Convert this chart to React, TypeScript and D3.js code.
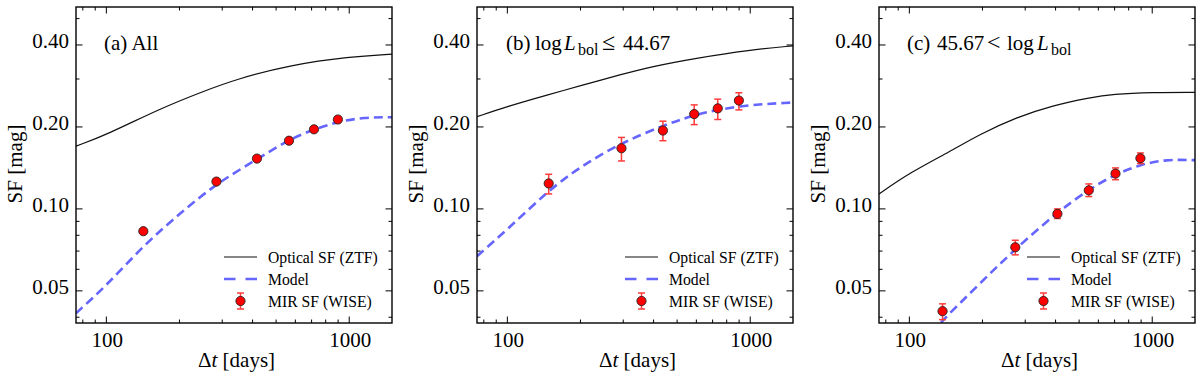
import { useEffect, useRef } from 'react';
import * as d3 from 'd3';

// tick values
const xMajorTicks = [100, 1000];
const xMinorTicks = [80, 90, 200, 300, 400, 500, 600, 700, 800, 900];
const yMajorTicks = [0.05, 0.1, 0.2, 0.4];
const yMinorTicks = [0.04, 0.06, 0.07, 0.08, 0.09, 0.3, 0.5];

// (a) All
const opticalDaysA = [75, 100, 167, 250, 344, 575, 1000, 1500];
const opticalSfA = [0.170, 0.187, 0.234, 0.270, 0.300, 0.338, 0.362, 0.370];
const modelDaysA = [75, 100, 143, 203, 284, 417, 565, 716, 898, 1150, 1500];
const modelSfA = [0.0414, 0.0522, 0.0738, 0.097, 0.124, 0.152, 0.180, 0.196, 0.209, 0.217, 0.217];
const wiseDaysA = [142, 284, 417, 565, 716, 898];
const wiseSfA = [0.0828, 0.126, 0.153, 0.178, 0.196, 0.213];
const wiseLoA = [0.0815, 0.1245, 0.1515, 0.1765, 0.1945, 0.2112];
const wiseHiA = [0.0841, 0.1275, 0.1545, 0.1795, 0.1975, 0.2148];

// (b) log Lbol <= 44.67
const opticalDaysB = [75, 100, 148, 199, 295, 398, 588, 1000, 1500];
const opticalSfB = [0.218, 0.238, 0.263, 0.283, 0.312, 0.334, 0.357, 0.384, 0.397];
const modelDaysB = [75, 100, 148, 200, 295, 437, 588, 898, 1500];
const modelSfB = [0.067, 0.084, 0.117, 0.143, 0.175, 0.202, 0.222, 0.240, 0.246];
const wiseDaysB = [148, 295, 437, 588, 735, 898];
const wiseSfB = [0.124, 0.167, 0.194, 0.223, 0.234, 0.250];
const wiseLoB = [0.1135, 0.150, 0.178, 0.204, 0.213, 0.231];
const wiseHiB = [0.134, 0.183, 0.210, 0.241, 0.253, 0.267];

// (c) 45.67 < log Lbol
const opticalDaysC = [75, 100, 148, 195, 276, 390, 552, 688, 1000, 1500];
const opticalSfC = [0.1135, 0.1356, 0.163, 0.188, 0.217, 0.240, 0.256, 0.264, 0.268, 0.268];
const modelDaysC = [135, 138, 195, 273, 404, 548, 706, 894, 1140, 1500];
const modelSfC = [0.0382, 0.0392, 0.0532, 0.0713, 0.0967, 0.118, 0.134, 0.1455, 0.152, 0.151];
const wiseDaysC = [137, 273, 407, 548, 706, 894];
const wiseSfC = [0.0421, 0.0723, 0.0959, 0.117, 0.1348, 0.1534];
const wiseLoC = [0.0392, 0.0678, 0.0922, 0.111, 0.128, 0.1467];
const wiseHiC = [0.0448, 0.0767, 0.100, 0.1235, 0.1414, 0.1605];

const legendLabels = ['Optical SF (ZTF)', 'Model', 'MIR SF (WISE)'];

// title pieces: [text, x offset, style]
const titleA = [['(a) All', 28, 'n']];
const titleB = [['(b)', 29, 'n'], ['log', 58, 'n'], ['L', 87, 'i'], ['bol', 101, 's'], ['\u2264', 125, 'm'], ['44.67', 146, 'n']];
const titleC = [['(c)', 28, 'n'], ['45.67', 58, 'n'], ['<', 108, 'm'], ['log', 128, 'n'], ['L', 158, 'i'], ['bol', 172, 's']];

const panels = [
  { key: 'a', title: titleA, opticalDays: opticalDaysA, opticalSf: opticalSfA, modelDays: modelDaysA, modelSf: modelSfA,
    wiseDays: wiseDaysA, wiseSf: wiseSfA, wiseLo: wiseLoA, wiseHi: wiseHiA },
  { key: 'b', title: titleB, opticalDays: opticalDaysB, opticalSf: opticalSfB, modelDays: modelDaysB, modelSf: modelSfB,
    wiseDays: wiseDaysB, wiseSf: wiseSfB, wiseLo: wiseLoB, wiseHi: wiseHiB },
  { key: 'c', title: titleC, opticalDays: opticalDaysC, opticalSf: opticalSfC, modelDays: modelDaysC, modelSf: modelSfC,
    wiseDays: wiseDaysC, wiseSf: wiseSfC, wiseLo: wiseLoC, wiseHi: wiseHiC },
];

const FONT = "'Liberation Serif', 'Times New Roman', serif";
const MODEL_COLOR = '#6666ff';
const ERR_COLOR = '#ff3b3b';

function App() {
  const svgRef = useRef(null);

  useEffect(() => {
    document.body.style.margin = '0';
    const svg = d3.select(svgRef.current);
    svg.selectAll('*').remove();

    const lefts = [76, 477, 879];
    const top = 7;
    const size = 316;

    const x = d3.scaleLog().domain([75, 1500]).range([0, size]);
    const y = d3.scaleLog().domain([0.0381, 0.5515]).range([size, 0]);

    const txt = (sel, sizePx) => sel.style('font-family', FONT).style('font-size', `${sizePx}px`);

    panels.forEach((p, pi) => {
      const g = svg.append('g').attr('transform', `translate(${lefts[pi]},${top})`);

      g.append('clipPath').attr('id', `clip-${p.key}`)
        .append('rect').attr('width', size).attr('height', size);

      const plot = g.append('g').attr('clip-path', `url(#clip-${p.key})`);

      const line = d3.line()
        .x(d => x(d[0]))
        .y(d => y(d[1]))
        .curve(d3.curveBasis);

      // optical SF (ZTF)
      plot.append('path')
        .datum(p.opticalDays.map((d, i) => [d, p.opticalSf[i]]))
        .attr('d', line)
        .attr('fill', 'none')
        .attr('stroke', '#111')
        .attr('stroke-width', 1.2);

      // model
      plot.append('path')
        .datum(p.modelDays.map((d, i) => [d, p.modelSf[i]]))
        .attr('d', line)
        .attr('fill', 'none')
        .attr('stroke', MODEL_COLOR)
        .attr('stroke-width', 2.6)
        .attr('stroke-dasharray', '9,5');

      // WISE points with error bars
      p.wiseDays.forEach((d, i) => {
        const cx = x(d);
        plot.append('line')
          .attr('x1', cx).attr('x2', cx)
          .attr('y1', y(p.wiseLo[i])).attr('y2', y(p.wiseHi[i]))
          .attr('stroke', ERR_COLOR).attr('stroke-width', 1.5);
        [p.wiseLo[i], p.wiseHi[i]].forEach(v => {
          plot.append('line')
            .attr('x1', cx - 3.5).attr('x2', cx + 3.5)
            .attr('y1', y(v)).attr('y2', y(v))
            .attr('stroke', ERR_COLOR).attr('stroke-width', 1.5);
        });
        plot.append('circle')
          .attr('cx', cx).attr('cy', y(p.wiseSf[i]))
          .attr('r', 4.6)
          .attr('fill', '#ff0000')
          .attr('stroke', '#222')
          .attr('stroke-width', 0.9);
      });

      // ticks on all four sides, pointing inward
      const tick = (x1, y1, x2, y2) => g.append('line')
        .attr('x1', x1).attr('y1', y1).attr('x2', x2).attr('y2', y2)
        .attr('stroke', '#000').attr('stroke-width', 1);

      xMajorTicks.concat(xMinorTicks).forEach(v => {
        const len = xMajorTicks.includes(v) ? 6.5 : 3.5;
        const px = x(v);
        tick(px, size, px, size - len);
        tick(px, 0, px, len);
      });
      yMajorTicks.concat(yMinorTicks).forEach(v => {
        const len = yMajorTicks.includes(v) ? 6.5 : 3.5;
        const py = y(v);
        tick(0, py, len, py);
        tick(size, py, size - len, py);
      });

      g.append('rect')
        .attr('width', size).attr('height', size)
        .attr('fill', 'none')
        .attr('stroke', '#000')
        .attr('stroke-width', 1.4);

      // tick labels
      xMajorTicks.forEach(v => {
        txt(g.append('text'), 21)
          .attr('x', x(v) + 1).attr('y', size + 24)
          .attr('text-anchor', 'middle')
          .text(d3.format('d')(v));
      });
      yMajorTicks.forEach(v => {
        txt(g.append('text'), 21)
          .attr('x', -7).attr('y', y(v) + 3.5)
          .attr('text-anchor', 'end')
          .text(d3.format('.2f')(v));
      });

      // axis labels
      const xl = txt(g.append('text'), 21)
        .attr('x', size / 2 + 2.5).attr('y', size + 44)
        .attr('text-anchor', 'middle');
      xl.append('tspan').text('\u0394');
      xl.append('tspan').style('font-style', 'italic').text('t');
      xl.append('tspan').text(' [days]');

      txt(g.append('text'), 21)
        .attr('transform', `translate(-54,${size / 2 - 1}) rotate(-90)`)
        .attr('text-anchor', 'middle')
        .text('SF [mag]');

      // panel title
      p.title.forEach(([t, dx, s]) => {
        const fs = s === 's' ? 16 : s === 'm' ? 24 : 21;
        const el = txt(g.append('text'), fs)
          .attr('x', dx).attr('y', s === 's' ? 48 : 43)
          .text(t);
        if (s === 'i') el.style('font-style', 'italic');
      });

      // legend
      const lx = 148;
      const rows = [size - 66, size - 44, size - 22];
      g.append('line')
        .attr('x1', lx).attr('x2', lx + 33)
        .attr('y1', rows[0]).attr('y2', rows[0])
        .attr('stroke', '#111').attr('stroke-width', 1.2);
      g.append('line')
        .attr('x1', lx).attr('x2', lx + 33)
        .attr('y1', rows[1]).attr('y2', rows[1])
        .attr('stroke', MODEL_COLOR).attr('stroke-width', 2.6)
        .attr('stroke-dasharray', '11.5,10');
      const mx = lx + 16.5;
      g.append('line')
        .attr('x1', mx).attr('x2', mx)
        .attr('y1', rows[2] - 8).attr('y2', rows[2] + 8)
        .attr('stroke', ERR_COLOR).attr('stroke-width', 1.5);
      [rows[2] - 8, rows[2] + 8].forEach(v => {
        g.append('line')
          .attr('x1', mx - 3.5).attr('x2', mx + 3.5)
          .attr('y1', v).attr('y2', v)
          .attr('stroke', ERR_COLOR).attr('stroke-width', 1.5);
      });
      g.append('circle')
        .attr('cx', mx).attr('cy', rows[2]).attr('r', 4.6)
        .attr('fill', '#ff0000').attr('stroke', '#222').attr('stroke-width', 0.9);

      legendLabels.forEach((t, i) => {
        txt(g.append('text'), 15.7)
          .attr('x', lx + 44).attr('y', rows[i] + 5.5)
          .text(t);
      });
    });
  }, []);

  return (
    <svg ref={svgRef} width={1200} height={377} style={{ display: 'block', background: '#fff' }}></svg>
  );
}

export default App;
